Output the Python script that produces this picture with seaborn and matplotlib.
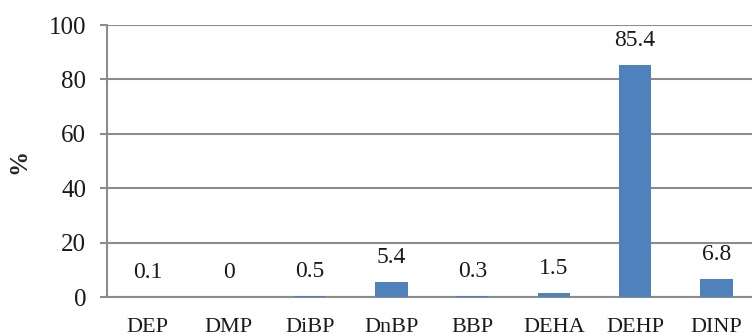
import matplotlib
matplotlib.use("Agg")
import matplotlib.pyplot as plt
import seaborn as sns
import pandas as pd

compounds = ["DEP", "DMP", "DiBP", "DnBP", "BBP", "DEHA", "DEHP", "DINP"]
percent = [0.1, 0, 0.5, 5.4, 0.3, 1.5, 85.4, 6.8]
value_labels = ["0.1", "0", "0.5", "5.4", "0.3", "1.5", "85.4", "6.8"]
y_ticks = [0, 20, 40, 60, 80, 100]

sns.set_theme(style="white")
plt.rcParams["font.family"] = ["Liberation Serif", "DejaVu Serif"]

df = pd.DataFrame({"compound": compounds, "percent": percent})

fig = plt.figure(figsize=(7.52, 3.36), dpi=100)
ax = fig.add_axes([107 / 752, 1 - 297 / 336, 650 / 752, 272 / 336])

sns.barplot(data=df, x="compound", y="percent", color="#4F81BD",
            width=0.4, saturation=1, linewidth=0, ax=ax, zorder=3)

grid_color = "#8c8c8c"
ax.set_ylim(0, 100)
ax.set_xlim(-0.5, len(compounds) - 0.5)
ax.set_yticks(y_ticks)
ax.yaxis.grid(True, color=grid_color, linewidth=1.5, zorder=0)
ax.set_axisbelow(True)

for side in ["top", "right"]:
    ax.spines[side].set_visible(False)
ax.spines["left"].set_color(grid_color)
ax.spines["left"].set_linewidth(1.5)
ax.spines["bottom"].set_color(grid_color)
ax.spines["bottom"].set_linewidth(1.5)

ax.tick_params(axis="y", left=True, length=5, width=1.5, color=grid_color,
               pad=10, labelsize=18, labelcolor="#1a1a1a")
ax.tick_params(axis="x", bottom=False, pad=9, labelsize=16, labelcolor="#1a1a1a")

ax.bar_label(ax.containers[0], labels=value_labels, padding=10,
             fontsize=17, color="#1a1a1a")

ax.set_xlabel("")
ax.set_ylabel("%", fontsize=18, fontweight="bold")
ax.yaxis.set_label_coords((30 - 107) / 650, 0.5)

fig.savefig("out.png", dpi=100)
